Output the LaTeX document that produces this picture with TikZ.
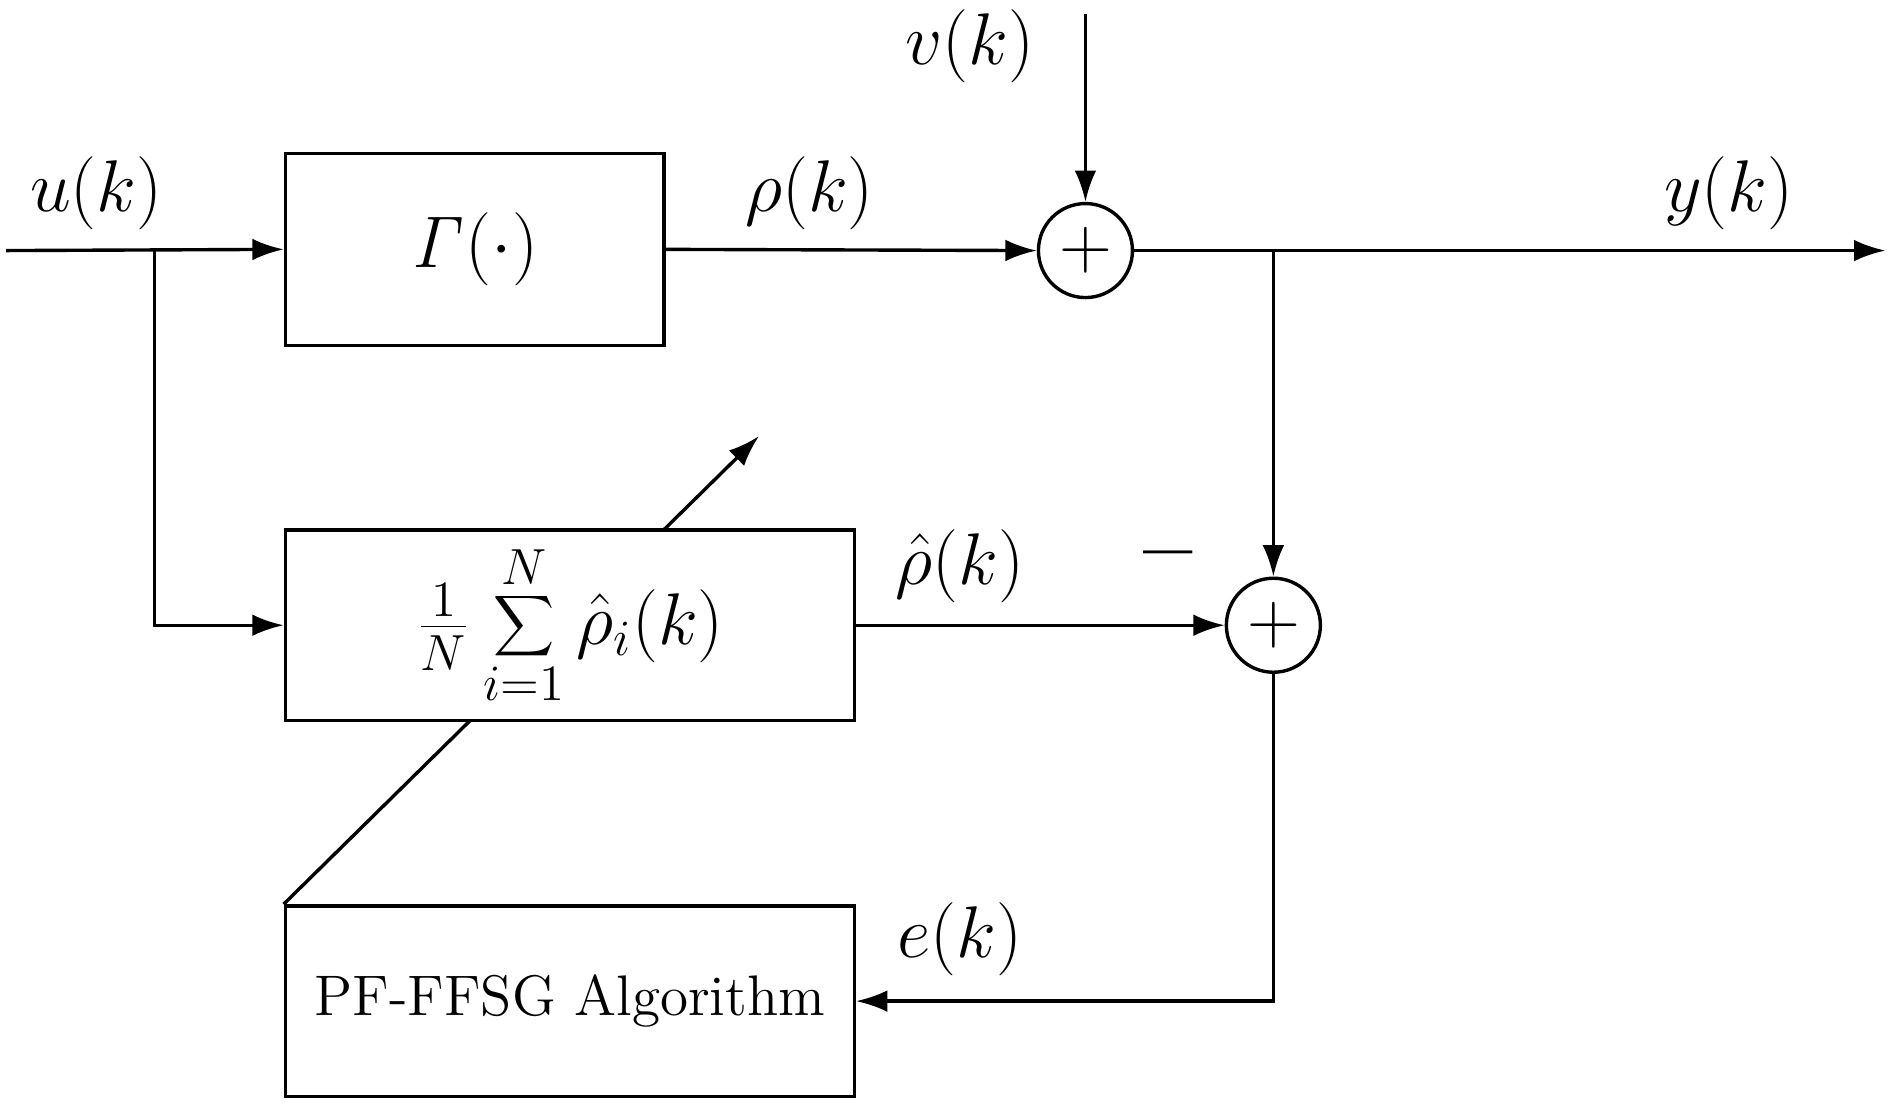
\documentclass[tikz,border=0pt]{standalone}
\usetikzlibrary{arrows.meta}
\tikzset{
  block/.style={draw, thick, fill=white, font=\fontsize{13.5}{16}\selectfont},
  sumnode/.style={draw, thick, circle, minimum size=0.78cm, inner sep=0pt, font=\LARGE},
  link/.style={thick, -{Latex[length=2.6mm, width=1.8mm]}},
  lbl/.style={font=\LARGE}
}
\begin{document}
\begin{tikzpicture}[x=0.01cm, y=-0.01cm]
  \useasboundingbox (0,0) rectangle (1568,916);

  \node[block, minimum width=3.14cm, minimum height=1.59cm] (gamma) at (394,207) {\LARGE $\mathit{\Gamma}(\cdot)$};
  \node[block, minimum width=4.72cm, minimum height=1.58cm] (pf) at (473,831) {PF-FFSG Algorithm};
  \coordinate (tip) at (630,362);
  \draw[link] (pf.north west) -- (tip);
  \node[block, minimum width=4.72cm, minimum height=1.58cm] (avg) at (473,519) {\LARGE $\frac{1}{N}\displaystyle\sum_{i=1}^{N}\hat{\rho}_i(k)$};

  \node[sumnode] (sum1) at (901,208) {$+$};
  \node[sumnode] (sum2) at (1057,519) {$+$};

  \coordinate (in) at (5,208);
  \coordinate (split) at (128,208);
  \coordinate (vin) at (901,12);
  \coordinate (out) at (1565,208);
  \coordinate (tap) at (1057,208);
  \coordinate (ecorner) at (1057,831);

  \draw[link] (in) -- (gamma.west);
  \draw[link] (split) |- (avg.west);
  \draw[link] (gamma.east) -- (sum1.west);
  \draw[link] (vin) -- (sum1.north);
  \draw[link] (sum1.east) -- (out);
  \draw[link] (tap) -- (sum2.north);
  \draw[link] (avg.east) -- (sum2.west);
  \draw[link] (sum2.south) -- (ecorner) -- (pf.east);

  \node[lbl] (ulbl) at (80,160) {$u(k)$};
  \node[lbl] (rholbl) at (672,160) {$\rho(k)$};
  \node[lbl] (vlbl) at (805,38) {$v(k)$};
  \node[lbl] (ylbl) at (1435,160) {$y(k)$};
  \node[lbl] (rhohatlbl) at (797,470) {$\hat{\rho}(k)$};
  \node[font=\huge\bfseries] (minus) at (970,468) {--};
  \node[lbl] (elbl) at (797,780) {$e(k)$};
\end{tikzpicture}
\end{document}
